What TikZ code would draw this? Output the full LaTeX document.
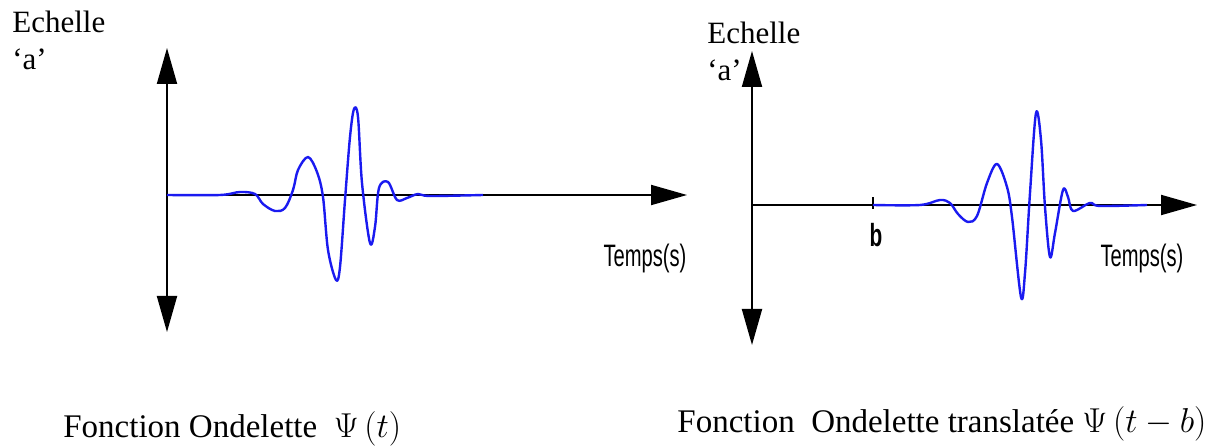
\documentclass[tikz,border=0pt]{standalone}
\usepackage{fontspec}
\setmainfont{Liberation Serif}
\newfontfamily\narrowsans[FakeStretch=0.65]{Liberation Sans}
\usetikzlibrary{arrows.meta,positioning}
\definecolor{waveblue}{HTML}{1A1AF0}
\tikzset{
  axisline/.style={line width=1pt,black,{Triangle[length=18pt,width=10pt]}-{Triangle[length=18pt,width=10pt]}},
  axisright/.style={line width=1pt,black,-{Triangle[length=18pt,width=10pt]}},
  wave/.style={line width=1.2pt,waveblue,smooth,tension=0.55,line join=round},
  scalelabel/.style={font=\fontsize{15.5}{18.5}\selectfont,align=left,inner sep=0pt,anchor=north west},
  timelabel/.style={font=\narrowsans\fontsize{15.5}{18}\selectfont,inner sep=0pt},
  shiftlabel/.style={font=\narrowsans\bfseries\fontsize{16}{18}\selectfont,inner sep=0pt},
  caption/.style={font=\fontsize{16.5}{20}\selectfont,inner sep=0pt,anchor=base west}
}

\begin{document}
\begin{tikzpicture}[x=0.5pt,y=-0.5pt]
  \useasboundingbox (0,0) rectangle (1216,448);

  % left plot: mother wavelet
  \coordinate (topL) at (167,48);
  \coordinate (botL) at (167,332);
  \coordinate (oL) at (167,195);
  \coordinate (endL) at (687,195);
  \draw[axisline] (botL) -- (topL);
  \draw[axisright] (oL) -- (endL);
  \draw[wave] plot coordinates {(167,195) (220,195) (240,192) (255,194) (263,204)
    (275,211) (285,208) (293,190) (298,170) (308,157) (317,172) (323,197)
    (328,250) (336,280) (340,267) (345,200) (350,137) (354,109) (358,117)
    (362,183) (370,243) (375,227) (379,188) (388,182) (397,200) (407,198)
    (418,194) (430,196) (483,195)};
  \node[scalelabel] (scaleL) at (12,11) {Echelle\\‘a’};
  \node[timelabel] (timeL) at (645,258) {Temps(s)};
  \node[caption] (capL) at (63,438) {Fonction Ondelette \ $\Psi\,\Bigl(t\Bigr)$};

  % right plot: translated wavelet
  \coordinate (topR) at (752,51);
  \coordinate (botR) at (752,345);
  \coordinate (oR) at (752,205);
  \coordinate (endR) at (1197,205);
  \coordinate (bR) at (873,205);
  \draw[axisline] (botR) -- (topR);
  \draw[axisright] (oR) -- (endR);
  \draw[line width=1pt] ([yshift=-2pt]bR) -- ([yshift=4pt]bR);
  \draw[wave] plot coordinates {(873,205) (920,205) (940,200) (950,203) (958,214)
    (968,222) (977,216) (987,183) (997,164) (1007,187) (1012,217) (1021,297)
    (1025,273) (1030,193) (1036,113) (1041,140) (1045,207) (1050,257)
    (1055,233) (1063,190) (1068,197) (1073,211) (1090,203) (1100,206)
    (1147,205)};
  \node[shiftlabel] (shiftR) at (876,235) {b};
  \node[scalelabel] (scaleR) at (707,22) {Echelle\\‘a’};
  \node[timelabel] (timeR) at (1142,258) {Temps(s)};
  \node[caption] (capR) at (677,433) {Fonction~ Ondelette translatée $\Psi\,\Bigl(t - b\Bigr)$};
\end{tikzpicture}
\end{document}
